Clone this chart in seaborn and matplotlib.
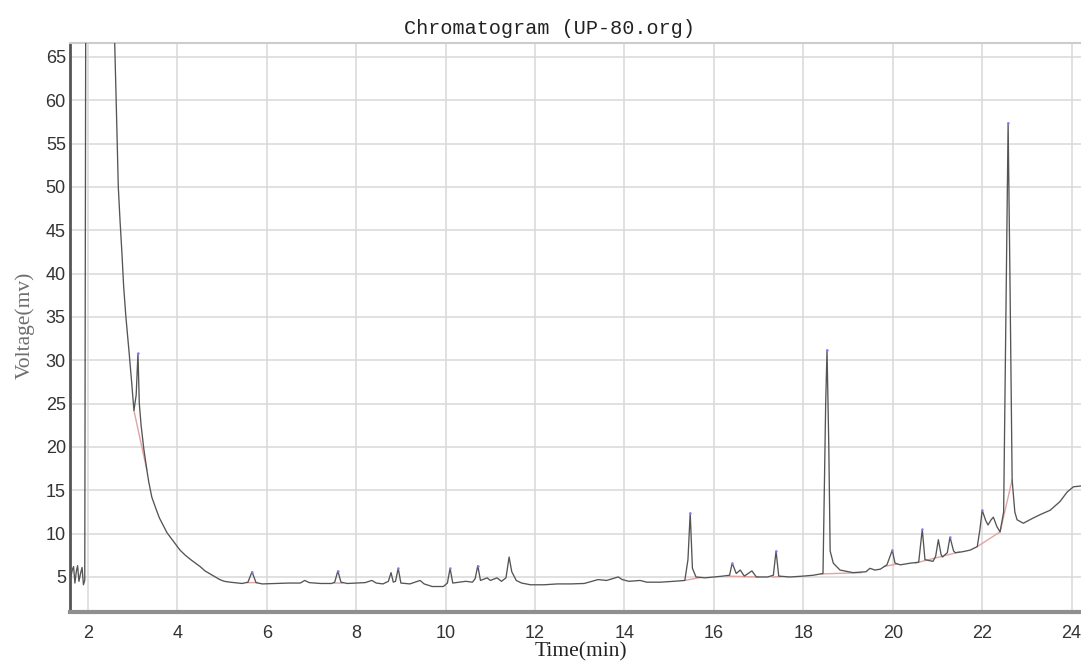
import numpy as np
import pandas as pd
import matplotlib
matplotlib.use("Agg")
import matplotlib.pyplot as plt
import seaborn as sns

# Detector trace: retention time (min) and signal (mV)
time_min = [
    1.62, 1.65, 1.68, 1.71, 1.74, 1.77, 1.80, 1.84, 1.87, 1.90, 1.93, 1.96,
    2.56, 2.60, 2.63, 2.68, 2.72, 2.76, 2.80, 2.85, 2.92, 2.98, 3.03, 3.08,
    3.12, 3.15, 3.19, 3.25, 3.32, 3.36, 3.43, 3.52, 3.60, 3.68, 3.77, 3.90,
    4.06, 4.18, 4.30, 4.51, 4.62, 4.75, 4.95, 5.05, 5.18, 5.45, 5.58, 5.67,
    5.76, 5.90, 6.20, 6.50, 6.75, 6.85, 6.95, 7.20, 7.45, 7.52, 7.59, 7.66,
    7.80, 8.00, 8.20, 8.35, 8.45, 8.60, 8.72, 8.78, 8.83, 8.88, 8.94, 9.00,
    9.20, 9.43, 9.52, 9.70, 9.95, 10.04, 10.10, 10.16, 10.30, 10.45, 10.60, 10.66,
    10.72, 10.78, 10.93, 11.00, 11.15, 11.25, 11.35, 11.42, 11.48, 11.58, 11.70, 11.90,
    12.20, 12.50, 12.80, 13.10, 13.41, 13.60, 13.86, 13.95, 14.10, 14.35, 14.50, 14.80,
    15.10, 15.35, 15.42, 15.47, 15.52, 15.60, 15.80, 16.00, 16.20, 16.35, 16.41, 16.50,
    16.59, 16.68, 16.85, 16.95, 17.20, 17.33, 17.39, 17.45, 17.70, 18.00, 18.22, 18.44,
    18.50, 18.53, 18.57, 18.60, 18.67, 18.82, 19.11, 19.40, 19.49, 19.60, 19.72, 19.87,
    19.99, 20.05, 20.17, 20.40, 20.58, 20.66, 20.72, 20.90, 20.96, 21.02, 21.08, 21.11,
    21.22, 21.28, 21.36, 21.40, 21.55, 21.73, 21.89, 21.95, 22.00, 22.08, 22.13, 22.20,
    22.25, 22.33, 22.40, 22.48, 22.53, 22.58, 22.62, 22.67, 22.73, 22.78, 22.92, 23.14,
    23.30, 23.52, 23.74, 23.90, 24.04, 24.21,
]
voltage_mv = [
    5.0, 5.8, 6.2, 4.3, 5.6, 6.3, 4.5, 5.5, 6.1, 4.1, 4.6, 95.0,
    95.0, 66.5, 60.5, 50.0, 46.0, 42.5, 38.5, 35.0, 31.0, 27.4, 24.2, 26.0,
    30.8, 25.0, 22.5, 19.8, 17.3, 16.0, 14.2, 12.9, 11.8, 11.0, 10.1, 9.2,
    8.1, 7.5, 7.0, 6.2, 5.7, 5.3, 4.7, 4.5, 4.4, 4.25, 4.4, 5.6,
    4.35, 4.2, 4.25, 4.3, 4.3, 4.6, 4.35, 4.25, 4.25, 4.4, 5.7, 4.4,
    4.25, 4.3, 4.35, 4.6, 4.3, 4.2, 4.5, 5.5, 4.4, 4.5, 6.0, 4.3,
    4.2, 4.6, 4.2, 3.9, 3.9, 4.3, 6.0, 4.3, 4.4, 4.5, 4.4, 4.8,
    6.3, 4.6, 4.9, 4.6, 4.9, 4.5, 4.9, 7.3, 5.6, 4.6, 4.3, 4.1,
    4.1, 4.2, 4.2, 4.25, 4.7, 4.6, 5.0, 4.7, 4.5, 4.6, 4.4, 4.4,
    4.5, 4.6, 7.0, 12.4, 6.0, 5.0, 4.9, 5.0, 5.1, 5.2, 6.6, 5.4,
    5.8, 5.1, 5.7, 5.0, 5.0, 5.2, 8.0, 5.1, 5.0, 5.1, 5.2, 5.4,
    25.0, 31.2, 20.0, 8.0, 6.6, 5.8, 5.5, 5.6, 6.0, 5.8, 5.9, 6.4,
    8.1, 6.6, 6.4, 6.6, 6.7, 10.5, 7.0, 6.8, 7.4, 9.3, 7.6, 7.3,
    7.8, 9.6, 8.0, 7.8, 7.9, 8.1, 8.5, 10.5, 12.7, 11.5, 11.0, 11.6,
    11.9, 10.8, 10.2, 12.5, 35.0, 57.4, 40.0, 16.2, 12.5, 11.6, 11.2, 11.8,
    12.2, 12.7, 13.7, 14.8, 15.4, 15.5,
]

# Integration baseline segments (NaN separates segments)
baseline_time = [3.03, 3.32, np.nan, 5.55, 5.80, np.nan, 7.50, 7.70, np.nan,
                 15.35, 15.70, np.nan, 16.30, 17.00, np.nan, 17.30, 17.50, np.nan,
                 18.40, 19.30, np.nan, 19.80, 20.10, np.nan, 20.50, 21.50, np.nan,
                 21.89, 22.40, 22.67]
baseline_mv = [24.2, 17.3, np.nan, 4.35, 4.35, np.nan, 4.3, 4.3, np.nan,
               4.6, 4.95, np.nan, 5.1, 5.0, np.nan, 5.0, 5.05, np.nan,
               5.35, 5.5, np.nan, 6.2, 6.5, np.nan, 6.6, 7.9, np.nan,
               8.5, 10.2, 16.2]

# Retention times of detected peak apexes
apex_times = [3.12, 5.67, 7.59, 8.94, 10.10, 10.72, 15.47, 16.41, 17.39,
              18.53, 19.99, 20.66, 21.28, 22.00, 22.58]

x_ticks = list(range(2, 25, 2))
y_ticks = list(range(5, 70, 5))

trace = pd.DataFrame({"time": time_min, "voltage": voltage_mv})
base = pd.DataFrame({"time": baseline_time, "voltage": baseline_mv})
apex = trace[trace["time"].isin(apex_times)]

sns.set_style("whitegrid")
plt.rcParams["font.family"] = ["Liberation Sans", "DejaVu Sans"]

fig = plt.figure(figsize=(10.81, 6.66), dpi=100)
ax = fig.add_axes([70 / 1081, 1 - 612 / 666, 1 - 70 / 1081, (612 - 43) / 666])

ax.plot(base["time"], base["voltage"], color="#e3a3a3", lw=1.0, zorder=2)
sns.lineplot(data=trace, x="time", y="voltage", ax=ax, sort=False,
             estimator=None, color="#555555", lw=0.95, zorder=3)
sns.scatterplot(data=apex, x="time", y="voltage", ax=ax, color="#8080ff",
                s=3, linewidth=0, zorder=4)

ax.set_xlim(1.6, 24.21)
ax.set_ylim(0.96, 66.6)
ax.set_xticks(x_ticks)
ax.set_yticks(y_ticks)
ax.tick_params(axis="both", length=0, labelsize=13, colors="#333333")
ax.tick_params(axis="x", pad=9)
ax.tick_params(axis="y", pad=3)
ax.grid(True, color="#d9d9d9", lw=1.1)
ax.set_xlabel("")
ax.set_ylabel("")

ax.spines["left"].set_color("#555555")
ax.spines["left"].set_linewidth(2.0)
ax.spines["bottom"].set_color("#8f8f8f")
ax.spines["bottom"].set_linewidth(3.0)
ax.spines["top"].set_color("#cccccc")
ax.spines["top"].set_linewidth(1.5)
ax.spines["right"].set_visible(False)

fig.text(550 / 1081, 1 - 29 / 666, "Chromatogram (UP-80.org)", ha="center",
         va="center", fontsize=14.5, family=["Liberation Mono", "DejaVu Sans Mono"],
         color="#222222")
fig.text(581 / 1081, 1 - 652 / 666, "Time(min)", ha="center", va="center",
         fontsize=15.5, family=["Liberation Serif", "DejaVu Serif"], color="#222222")
fig.text(25 / 1081, 1 - 325 / 666, "Voltage(mv)", ha="center", va="center",
         rotation=90, fontsize=15.5, family=["Liberation Serif", "DejaVu Serif"],
         color="#6e6e6e")

fig.savefig("out.png", dpi=100)
